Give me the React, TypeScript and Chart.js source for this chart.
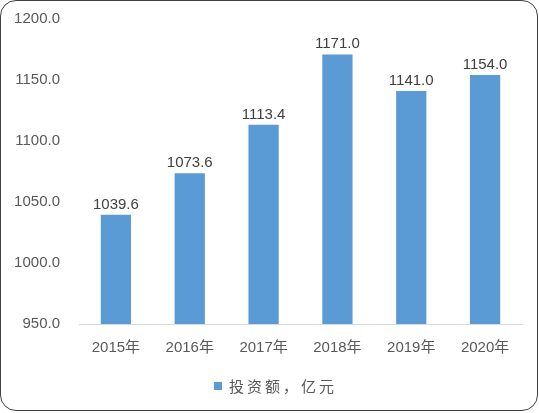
import React, { useEffect, useRef } from "react";
import { Chart, registerables } from "chart.js";

Chart.register(...registerables);

const categories = ["2015年", "2016年", "2017年", "2018年", "2019年", "2020年"];
const investment = [1039.6, 1073.6, 1113.4, 1171.0, 1141.0, 1154.0];
const seriesName = "投资额，亿元";
const yMin = 950;
const yMax = 1200;
const yStep = 50;

const BAR_COLOR = "#5b9bd5";
const FONT = '"Liberation Sans", "Noto Sans CJK SC", sans-serif';

const dataLabelPlugin = {
  id: "dataLabels",
  afterDatasetsDraw(chart: any) {
    const ctx = chart.ctx;
    const meta = chart.getDatasetMeta(0);
    ctx.save();
    ctx.font = `15px ${FONT}`;
    ctx.fillStyle = "#404040";
    ctx.textAlign = "center";
    ctx.textBaseline = "alphabetic";
    meta.data.forEach((el: any, i: number) => {
      const v = chart.data.datasets[0].data[i] as number;
      ctx.fillText(v.toFixed(1), el.x, el.y - 6);
    });
    ctx.restore();
  },
};

const customLegendPlugin = {
  id: "customLegend",
  afterDraw(chart: any) {
    const ctx = chart.ctx;
    ctx.save();
    ctx.fillStyle = BAR_COLOR;
    ctx.fillRect(214, 382, 8, 8);
    ctx.font = `15px "Noto Sans CJK SC", sans-serif`;
    (ctx as any).letterSpacing = "3px";
    ctx.fillStyle = "#595959";
    ctx.textAlign = "left";
    ctx.textBaseline = "middle";
    ctx.fillText(chart.data.datasets[0].label, 229, 386);
    ctx.restore();
  },
};

export default function App() {
  const ref = useRef<HTMLCanvasElement>(null);
  useEffect(() => {
    if (!ref.current) return;
    const chart = new Chart(ref.current, {
      type: "bar",
      data: {
        labels: categories,
        datasets: [
          {
            label: seriesName,
            data: investment,
            backgroundColor: BAR_COLOR,
            borderWidth: 0,
            barPercentage: 0.41,
            categoryPercentage: 1,
          },
        ],
      },
      options: {
        responsive: false,
        animation: false,
        devicePixelRatio: 1,
        layout: { padding: { left: 0, right: 17, top: 19, bottom: 49 } },
        plugins: {
          legend: { display: false },
          tooltip: { enabled: false },
        },
        scales: {
          x: {
            grid: { display: false, drawTicks: false },
            border: { display: true, color: "#d9d9d9", width: 1 },
            ticks: {
              color: "#595959",
              font: { family: FONT, size: 15 },
              padding: 15,
              maxRotation: 0,
            },
            afterFit: (s: any) => {
              s.height = 40;
            },
          },
          y: {
            min: yMin,
            max: yMax,
            grid: { display: false, drawTicks: false },
            border: { display: false },
            ticks: {
              stepSize: yStep,
              color: "#595959",
              font: { family: FONT, size: 15 },
              padding: 19,
              callback: (v: any) => Number(v).toFixed(1),
            },
            afterFit: (s: any) => {
              s.width = 79;
              s.paddingTop = 9;
              s.paddingBottom = 9;
            },
          },
        },
      },
      plugins: [dataLabelPlugin, customLegendPlugin],
    });
    return () => chart.destroy();
  }, []);

  return (
    <div style={{ position: "fixed", left: 0, top: 0, width: 539, height: 413, background: "#fff" }}>
      <canvas ref={ref} width={539} height={413} style={{ position: "absolute", left: 0, top: 0 }} />
      <div
        style={{
          position: "absolute",
          left: 0,
          top: 0,
          width: 538,
          height: 411,
          boxSizing: "border-box",
          border: "1.5px solid #404040",
          borderRadius: 16,
          pointerEvents: "none",
        }}
      />
    </div>
  );
}
